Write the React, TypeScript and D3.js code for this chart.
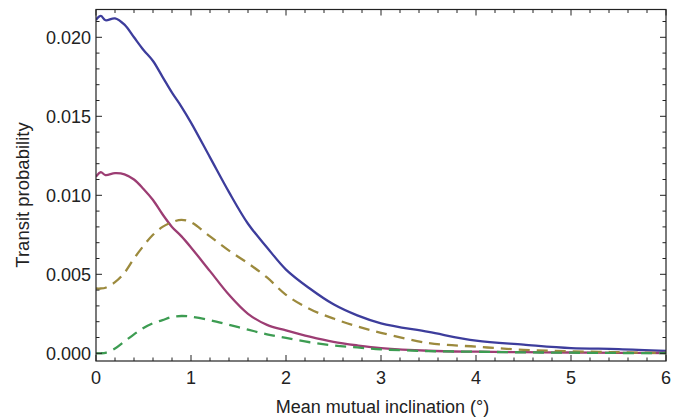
import React from "react";
import * as d3 from "d3";

const xs = [0, 0.05, 0.1, 0.2, 0.3, 0.4, 0.5, 0.6, 0.7, 0.8, 0.9, 1.0, 1.2, 1.4, 1.6, 1.8, 2.0, 2.25, 2.5, 2.75, 3.0, 3.5, 4.0, 4.5, 5.0, 5.5, 6.0];

const blueSeries = [0.0211, 0.02135, 0.02108, 0.0212, 0.0208, 0.0200, 0.0192, 0.0185, 0.0175, 0.0165, 0.0156, 0.0146, 0.0124, 0.0102, 0.0082, 0.0067, 0.0053, 0.0041, 0.0031, 0.0024, 0.0019, 0.00135, 0.0008, 0.00055, 0.00033, 0.00027, 0.00015];
const purpleSeries = [0.01118, 0.01146, 0.01128, 0.0114, 0.01133, 0.0110, 0.0104, 0.0097, 0.0088, 0.0080, 0.0074, 0.0067, 0.0052, 0.0037, 0.0025, 0.0018, 0.00145, 0.00105, 0.00072, 0.0005, 0.00033, 0.00016, 0.0001, 0.00007, 0.00005, 0.00003, 0.00002];
const oliveSeries = [0.0041, 0.0041, 0.00415, 0.0045, 0.0051, 0.0060, 0.0068, 0.0075, 0.0080, 0.0083, 0.00845, 0.0083, 0.0074, 0.0065, 0.0057, 0.0048, 0.0037, 0.0028, 0.0022, 0.0017, 0.0013, 0.00065, 0.00042, 0.00022, 0.00013, 0.00007, 0.00002];
const greenSeries = [0.0, 0.0, 0.00003, 0.0003, 0.00075, 0.0012, 0.0016, 0.0019, 0.0021, 0.0023, 0.00236, 0.00232, 0.0021, 0.0018, 0.0015, 0.0012, 0.00097, 0.0007, 0.0005, 0.00037, 0.00025, 0.00014, 0.0001, 0.00006, 0.00004, 0.00002, 0.00001];

const xTickValues = [0, 1, 2, 3, 4, 5, 6];
const yTickValues = [0, 0.005, 0.01, 0.015, 0.02];
const yTickLabels = ["0.000", "0.005", "0.010", "0.015", "0.020"];

const seriesList = [
  { name: "blue", values: blueSeries, color: "#3d3d9c", dash: null },
  { name: "purple", values: purpleSeries, color: "#9c3d73", dash: null },
  { name: "olive", values: oliveSeries, color: "#9c8a3d", dash: "11,7" },
  { name: "green", values: greenSeries, color: "#3d9c52", dash: "11,7" },
];

const W = 684;
const H = 418;
const left = 96;
const right = 666;
const top = 9.5;
const bottom = 361;

export default function App() {
  const x = d3.scaleLinear().domain([0, 6]).range([left, right]);
  const y = d3.scaleLinear().domain([0, 0.02]).range([353.3, 37.3]);

  const line = d3
    .line<number>()
    .x((_, i) => x(xs[i]))
    .y((d) => y(d))
    .curve(d3.curveCatmullRom.alpha(0.5));

  const xMinor = d3.range(0, 6.0001, 0.2).map((v) => +v.toFixed(2));
  const yMinor = d3.range(0, 0.0216, 0.001).map((v) => +v.toFixed(4));
  const textColor = "#222";
  const font = "'Liberation Sans', Arial, Helvetica, sans-serif";

  return (
    <svg
      width={W}
      height={H}
      style={{ position: "absolute", left: 0, top: 0 }}
      fontFamily={font}
    >
      <rect x={0} y={0} width={W} height={H} fill="#fff" />
      <defs>
        <clipPath id="plotclip">
          <rect x={left} y={top} width={right - left} height={bottom - top} />
        </clipPath>
      </defs>
      <g clipPath="url(#plotclip)">
        {seriesList.map((s) => (
          <path
            key={s.name}
            d={line(s.values) || ""}
            fill="none"
            stroke={s.color}
            strokeWidth={2.3}
            strokeDasharray={s.dash || undefined}
          />
        ))}
      </g>
      {/* ticks */}
      <g stroke={textColor} strokeWidth={1}>
        {xMinor.map((v) => {
          const major = Math.abs(v - Math.round(v)) < 1e-6;
          const len = major ? 6 : 3.5;
          const px = x(v);
          return (
            <g key={"xt" + v}>
              <line x1={px} x2={px} y1={bottom} y2={bottom - len} />
              <line x1={px} x2={px} y1={top} y2={top + len} />
            </g>
          );
        })}
        {yMinor.map((v) => {
          const major = Math.abs(v / 0.005 - Math.round(v / 0.005)) < 1e-6;
          const len = major ? 6 : 3.5;
          const py = y(v);
          return (
            <g key={"yt" + v}>
              <line x1={left} x2={left + len} y1={py} y2={py} />
              <line x1={right} x2={right - len} y1={py} y2={py} />
            </g>
          );
        })}
      </g>
      <rect
        x={left}
        y={top}
        width={right - left}
        height={bottom - top}
        fill="none"
        stroke={textColor}
        strokeWidth={1.2}
      />
      {/* tick labels */}
      <g fill={textColor} fontSize={18}>
        {xTickValues.map((v) => (
          <text key={"xl" + v} x={x(v)} y={383.5} textAnchor="middle">
            {v}
          </text>
        ))}
        {yTickValues.map((v, i) => (
          <text key={"yl" + v} x={91} y={y(v) + 6.3} textAnchor="end">
            {yTickLabels[i]}
          </text>
        ))}
      </g>
      <text
        x={382.5}
        y={413}
        textAnchor="middle"
        fontSize={18}
        fill={textColor}
      >
        Mean mutual inclination (°)
      </text>
      <text
        transform={`translate(29, 195) rotate(-90)`}
        textAnchor="middle"
        fontSize={18.5}
        fill={textColor}
      >
        Transit probability
      </text>
    </svg>
  );
}
